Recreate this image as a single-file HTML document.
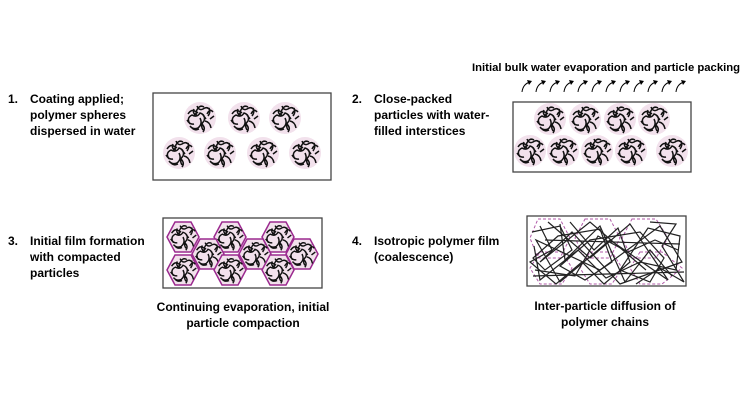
<!DOCTYPE html>
<html><head><style>
body{margin:0;background:#fff;width:740px;height:400px;overflow:hidden;font-family:"Liberation Sans",sans-serif}
svg{position:absolute;left:0;top:0}
text{font-family:"Liberation Sans",sans-serif;font-weight:bold;font-size:12px;fill:#000}
</style></head><body>
<svg width="740" height="400" viewBox="0 0 740 400">
<defs>
<g id="sq" fill="none" stroke="#111" stroke-width="1.5">
<path d="M-12,-4 q4,-6 8,-2 q3,-8 8,-5 M-10,6 q-4,-6 2,-9 q5,3 8,-2 q6,2 4,8 q-4,4 -1,9 M-3,-12 q2,5 6,3 q4,-3 7,1 M0,0 q3,6 -2,10 q-5,2 -8,-2 M5,3 q5,1 6,7 M7,-4 q3,-6 6,-2 M-13,2 q3,5 7,4 M-6,-9 q-2,5 3,6 M9,-10 q2,4 -1,8 M2,6 q4,4 1,8 M-8,10 q3,3 7,1 M10,1 l4,-3 M3,-3 l3,4 M-2,-6 l-4,3"/>
</g>
<g id="p"><circle r="16" fill="#f2e1ec"/><use href="#sq"/></g>
<g id="h">
<polygon points="-8,-15 8,-15 16,0 8,15 -8,15 -16,0" fill="#f2e1ec" stroke="#9b2a8f" stroke-width="1.5"/>
<use href="#sq" transform="scale(0.95)"/>
</g>
<g id="a"><path d="M0,12 q1,-8 8,-10" fill="none" stroke="#000" stroke-width="1"/><path d="M5,0 l5,1 l-3,4z" fill="#000"/></g>
</defs>

<rect x="153" y="93" width="178" height="87" fill="#fff" stroke="#444" stroke-width="1.3"/>
<use href="#p" x="200" y="118"/><use href="#p" x="244" y="118"/><use href="#p" x="285" y="118"/>
<use href="#p" x="179" y="153"/><use href="#p" x="220" y="153"/><use href="#p" x="263" y="153"/><use href="#p" x="305" y="153"/>

<text x="472" y="71" style="font-size:11.3px">Initial bulk water evaporation and particle packing</text>
<g>
<use href="#a" x="522" y="80"/><use href="#a" x="536" y="80"/><use href="#a" x="550" y="80"/><use href="#a" x="564" y="80"/><use href="#a" x="578" y="80"/><use href="#a" x="592" y="80"/><use href="#a" x="606" y="80"/><use href="#a" x="620" y="80"/><use href="#a" x="634" y="80"/><use href="#a" x="648" y="80"/><use href="#a" x="662" y="80"/><use href="#a" x="676" y="80"/>
</g>
<rect x="513" y="102" width="178" height="70" fill="#fff" stroke="#444" stroke-width="1.3"/>
<use href="#p" x="550" y="119"/><use href="#p" x="585" y="119"/><use href="#p" x="620" y="119"/><use href="#p" x="654" y="119"/>
<use href="#p" x="530" y="151"/><use href="#p" x="563" y="151"/><use href="#p" x="597" y="151"/><use href="#p" x="631" y="151"/><use href="#p" x="672" y="151"/>

<rect x="163" y="218" width="159" height="70" fill="#fff" stroke="#444" stroke-width="1.3"/>
<use href="#h" x="183" y="237"/><use href="#h" x="230" y="237"/><use href="#h" x="278" y="237"/>
<use href="#h" x="208" y="254"/><use href="#h" x="255" y="254"/><use href="#h" x="302" y="254"/>
<use href="#h" x="183" y="270"/><use href="#h" x="230" y="270"/><use href="#h" x="278" y="270"/>

<rect x="527" y="216" width="159" height="70" fill="#fff" stroke="#444" stroke-width="1.3"/>
<g fill="none" stroke="#b05aa8" stroke-width="1" stroke-dasharray="3,2">
<polygon points="538,219 560,219 570,238 560,258 538,258 530,238"/>
<polygon points="585,219 610,219 620,238 610,258 585,258 575,238"/>
<polygon points="632,219 656,219 668,238 656,258 632,258 622,238"/>
<polygon points="540,252 562,252 572,268 562,284 540,284 530,268"/>
<polygon points="590,252 612,252 622,268 612,284 590,284 580,268"/>
<polygon points="640,252 662,252 682,268 662,284 640,284 630,268"/>
</g>
<g fill="none" stroke="#222" stroke-width="1.2">
<path d="M532,232 L560,226 L572,250 L545,270 L533,258 L558,236 L600,229 L612,262 L585,280 L560,266 L590,240 L640,232 L664,258 L650,282 L620,270 L648,228 L680,236 L676,270 L640,262 L606,278 L578,250 L540,280 L534,246"/>
<path d="M548,222 L590,258 L630,224 L668,280 L610,240 L560,282 L536,240 L600,270 L660,226 L682,262 L620,284 L572,232 L540,262 L590,222 L646,270"/>
<path d="M535,270 L575,276 L598,236 L628,252 L655,240 L678,250 M560,224 L565,260 L600,226 L625,282 L650,250 L672,276"/>
<path d="M540,226 L552,250 L530,262 L556,284 L582,262 L604,284 L630,262 L618,228 L594,250 L570,222 M650,222 L676,224 L662,246 L684,282 L660,268 L636,284 M545,240 L680,244 M533,276 L684,272"/>
</g>

<text x="8" y="103">1.</text><text x="30" y="103">Coating applied;</text>
<text x="30" y="119">polymer spheres</text><text x="30" y="135">dispersed in water</text>
<text x="352" y="103">2.</text><text x="374" y="103">Close-packed</text>
<text x="374" y="119">particles with water-</text><text x="374" y="135">filled interstices</text>
<text x="8" y="245">3.</text><text x="30" y="245">Initial film formation</text>
<text x="30" y="261">with compacted</text><text x="30" y="277">particles</text>
<text x="352" y="245">4.</text><text x="374" y="245">Isotropic polymer film</text>
<text x="374" y="261">(coalescence)</text>
<text x="243" y="311" text-anchor="middle">Continuing evaporation, initial</text>
<text x="243" y="327" text-anchor="middle">particle compaction</text>
<text x="605" y="310" text-anchor="middle">Inter-particle diffusion of</text>
<text x="605" y="326" text-anchor="middle">polymer chains</text>
</svg>
</body></html>
